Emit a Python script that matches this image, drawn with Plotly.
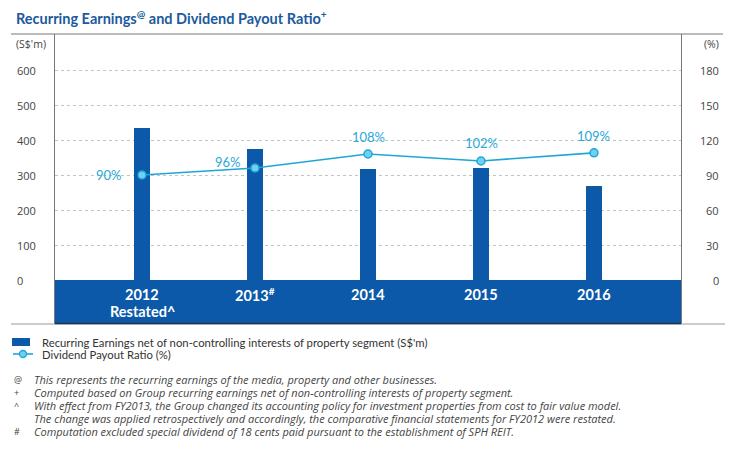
import plotly.graph_objects as go

years = ["2012", "2013", "2014", "2015", "2016"]
year_labels = ["<b>2012</b>", "<b>2013<sup>#</sup></b>", "<b>2014</b>", "<b>2015</b>", "<b>2016</b>"]
sub_labels = ["<b>Restated^</b>", "", "", "", ""]
earnings = [434, 373, 318, 320, 268]
payout = [90, 96, 108, 102, 109]
payout_text = ["90%", "96%", "108%", "102%", "109%"]
left_ticks = [0, 100, 200, 300, 400, 500, 600]
right_ticks = [0, 30, 60, 90, 120, 150, 180]
legend_names = ["Recurring Earnings net of non-controlling interests of property segment (S$'m)",
                "Dividend Payout Ratio (%)"]
footnote_marks = ["@", "+", "^", "", "#"]
footnotes = [
    "This represents the recurring earnings of the media, property and other businesses.",
    "Computed based on Group recurring earnings net of non-controlling interests of property segment.",
    "With effect from FY2013, the Group changed its accounting policy for investment properties from cost to fair value model.",
    "The change was applied retrospectively and accordingly, the comparative financial statements for FY2012 were restated.",
    "Computation excluded special dividend of 18 cents paid pursuant to the establishment of SPH REIT.",
]

# page body has an 8px margin; the figure is placed at (8, 8)
OFF = 8
WIN_W, WIN_H = 736, 449
W, H = WIN_W - OFF, WIN_H - OFF
PL, PR, PT, PB = 55, 681, 34, 324  # plot area in window pixels
ZERO_PX = 280
PX_PER_UNIT = 0.35
ymin = -(PB - ZERO_PX) / PX_PER_UNIT
ymax = (ZERO_PX - PT) / PX_PER_UNIT
scale = 0.3
xmin, xmax = -0.77, 4.77

BLUE = "#0b59a8"
CYAN = "#1fa6d8"
FONT = "Lato, 'Open Sans', sans-serif"
NOTE_FONT = "'Open Sans', sans-serif"


def px_x(px):
    return (px - OFF) / W


def px_y(py):
    return 1 - (py - OFF) / H


fig = go.Figure()
fig.add_trace(go.Bar(
    x=list(range(len(years))), y=earnings, width=0.145, marker_color=BLUE,
    marker_line_width=0, name=legend_names[0], showlegend=False,
))
fig.add_trace(go.Scatter(
    x=list(range(len(years))), y=payout, yaxis="y2", mode="lines+markers",
    line=dict(color=CYAN, width=1.6),
    marker=dict(size=8, color="#6fd0f2", line=dict(color=CYAN, width=1.5)),
    name=legend_names[1], showlegend=False,
))

shapes = [
    dict(type="rect", xref="x", yref="y", x0=xmin, x1=xmax, y0=ymin, y1=0,
         fillcolor=BLUE, line_width=0, layer="above"),
    dict(type="line", xref="paper", yref="paper", x0=px_x(11), x1=px_x(725),
         y0=px_y(PB), y1=px_y(PB), line=dict(color="#999", width=1.2)),
    dict(type="line", xref="paper", yref="paper", x0=px_x(PL), x1=px_x(PR),
         y0=px_y(PB - 0.5), y1=px_y(PB - 0.5), line=dict(color="#1d3550", width=1.5)),
    dict(type="line", xref="paper", yref="paper", x0=px_x(11), x1=px_x(723),
         y0=px_y(PT), y1=px_y(PT), line=dict(color="#777", width=1)),
    # manual legend keys
    dict(type="rect", xref="paper", yref="paper", x0=px_x(12), x1=px_x(30),
         y0=px_y(338), y1=px_y(346), fillcolor=BLUE, line_width=0),
    dict(type="line", xref="paper", yref="paper", x0=px_x(13), x1=px_x(33),
         y0=px_y(354), y1=px_y(354), line=dict(color=CYAN, width=1.6)),
    dict(type="circle", xref="paper", yref="paper", x0=px_x(19.5), x1=px_x(26.5),
         y0=px_y(350.5), y1=px_y(357.5), fillcolor="#6fd0f2", line=dict(color=CYAN, width=1.3)),
]

annotations = []
# line value labels, offsets in pixels relative to the point
label_shift = [(-33, 0), (-27, 6), (0, 17), (0, 18), (0, 17)]
for i, (v, t) in enumerate(zip(payout, payout_text)):
    dx, dy = label_shift[i]
    annotations.append(dict(x=i, y=v, xref="x", yref="y2", text=t, showarrow=False,
                            xshift=dx, yshift=dy, xanchor="center", yanchor="middle",
                            font=dict(color="#2aa8d8", size=13, family=FONT)))
for i, (lab, sub) in enumerate(zip(year_labels, sub_labels)):
    annotations.append(dict(x=i, y=-(294 - ZERO_PX) / PX_PER_UNIT, xref="x", yref="y", text=lab,
                            showarrow=False, xanchor="center", yanchor="middle",
                            font=dict(color="white", size=14.5, family=FONT)))
    if sub:
        annotations.append(dict(x=i, y=-(311 - ZERO_PX) / PX_PER_UNIT, xref="x", yref="y", text=sub,
                                showarrow=False, xanchor="center", yanchor="middle",
                                font=dict(color="white", size=14.5, family=FONT)))
for v in left_ticks:
    annotations.append(dict(x=px_x(15), y=v, xref="paper", yref="y", text=str(v),
                            showarrow=False, xanchor="left", yanchor="middle",
                            font=dict(color="#444", size=11, family=NOTE_FONT)))
for v in right_ticks:
    annotations.append(dict(x=px_x(721), y=v, xref="paper", yref="y2", text=str(v),
                            showarrow=False, xanchor="right", yanchor="middle",
                            font=dict(color="#444", size=11, family=NOTE_FONT)))
annotations.append(dict(x=px_x(14), y=px_y(44), xref="paper", yref="paper", text="(S$'m)",
                        showarrow=False, xanchor="left", yanchor="middle",
                        font=dict(color="#444", size=10.5, family=NOTE_FONT)))
annotations.append(dict(x=px_x(721), y=px_y(44), xref="paper", yref="paper", text="(%)",
                        showarrow=False, xanchor="right", yanchor="middle",
                        font=dict(color="#444", size=10.5, family=NOTE_FONT)))
annotations.append(dict(x=px_x(14), y=px_y(18), xref="paper", yref="paper",
                        text="<b>Recurring Earnings<sup>@</sup> and Dividend Payout Ratio<sup>+</sup></b>",
                        showarrow=False, xanchor="left", yanchor="middle",
                        font=dict(color="#1b5a9c", size=14.5, family=FONT)))
for k, name in enumerate(legend_names):
    annotations.append(dict(x=px_x(40), y=px_y(342 + 12 * k), xref="paper", yref="paper", text=name,
                            showarrow=False, xanchor="left", yanchor="middle",
                            font=dict(color="#333", size=11.3, family=FONT)))
for k, (m, t) in enumerate(zip(footnote_marks, footnotes)):
    py = 379 + k * 13
    if m:
        annotations.append(dict(x=px_x(12), y=px_y(py), xref="paper", yref="paper", text=m,
                                showarrow=False, xanchor="left", yanchor="middle",
                                font=dict(color="#444", size=9, family=NOTE_FONT)))
    annotations.append(dict(x=px_x(32), y=px_y(py), xref="paper", yref="paper", text="<i>" + t + "</i>",
                            showarrow=False, xanchor="left", yanchor="middle",
                            font=dict(color="#444", size=11, family=NOTE_FONT)))

fig.update_layout(
    width=W, height=H, margin=dict(l=0, r=0, t=0, b=0),
    plot_bgcolor="white", paper_bgcolor="white",
    font=dict(family=FONT, color="#444"),
    xaxis=dict(domain=[px_x(PL), px_x(PR)], range=[xmin, xmax], showticklabels=False,
               showgrid=False, zeroline=False, ticks=""),
    yaxis=dict(domain=[px_y(PB), px_y(PT)], range=[ymin, ymax], tickvals=left_ticks,
               showticklabels=False, showgrid=True,
               gridcolor="#c4c4c4", griddash="dot", gridwidth=1, zeroline=False,
               showline=True, linecolor="#777", linewidth=1, ticks=""),
    yaxis2=dict(range=[ymin * scale, ymax * scale], overlaying="y", side="right",
                showticklabels=False, showgrid=False, zeroline=False,
                showline=True, linecolor="#777", linewidth=1, ticks=""),
    shapes=shapes, annotations=annotations,
    showlegend=False,
    bargap=0,
)

fig.write_html("out.html")
